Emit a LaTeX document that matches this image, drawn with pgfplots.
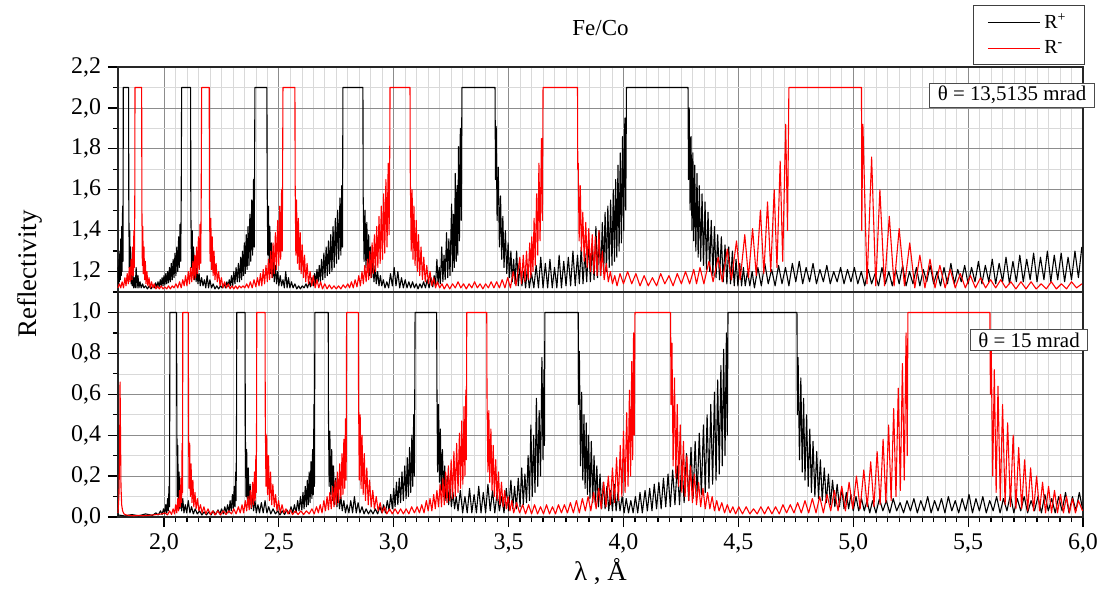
\documentclass[border=0pt]{standalone}
\usepackage{pgfplots}
\pgfplotsset{compat=1.18}
\usepackage{pgfplotstable}
\usepackage{fontspec}
\setmainfont{Liberation Serif}

% top panel, R+ (theta = 13.5135 mrad), raw reflectivity (plotted +1.1)
\pgfplotstableread[row sep=\\]{x y\\
1.800 0.12\\1.802 0.04\\1.804 0.16\\1.806 0.05\\1.808 0.20\\1.810 0.06\\1.812 0.26\\1.814 0.08\\
1.816 0.32\\1.818 0.10\\1.820 0.42\\1.822 0.15\\1.823 1.00\\1.846 1.00\\1.847 0.45\\1.849 0.12\\
1.851 0.30\\1.853 0.06\\1.855 0.22\\1.857 0.04\\1.859 0.15\\1.862 0.03\\1.865 0.10\\1.868 0.02\\
1.871 0.07\\1.875 0.02\\1.879 0.12\\1.883 0.02\\1.887 0.08\\1.891 0.02\\1.896 0.05\\1.901 0.02\\
1.907 0.04\\1.913 0.02\\1.920 0.03\\1.928 0.015\\1.936 0.03\\1.944 0.015\\1.952 0.035\\1.958 0.02\\
1.964 0.045\\1.969 0.02\\1.974 0.05\\1.979 0.025\\1.984 0.06\\1.988 0.03\\1.992 0.07\\1.996 0.03\\
2.000 0.08\\2.004 0.035\\2.008 0.09\\2.012 0.04\\2.016 0.10\\2.020 0.045\\2.024 0.12\\2.028 0.05\\
2.032 0.14\\2.036 0.06\\2.040 0.16\\2.044 0.07\\2.048 0.19\\2.052 0.08\\2.056 0.22\\2.060 0.10\\
2.064 0.27\\2.067 0.12\\2.070 0.33\\2.073 0.15\\2.075 0.42\\2.077 1.00\\2.116 1.00\\2.117 0.40\\
2.120 0.12\\2.123 0.30\\2.126 0.08\\2.129 0.22\\2.132 0.06\\2.136 0.16\\2.140 0.05\\2.144 0.12\\
2.148 0.04\\2.153 0.09\\2.158 0.03\\2.164 0.07\\2.170 0.03\\2.176 0.06\\2.182 0.02\\2.188 0.08\\
2.194 0.02\\2.200 0.06\\2.207 0.02\\2.214 0.04\\2.222 0.015\\2.230 0.03\\2.238 0.015\\2.246 0.03\\
2.254 0.02\\2.262 0.04\\2.268 0.02\\2.274 0.05\\2.279 0.025\\2.284 0.06\\2.289 0.03\\2.294 0.08\\
2.299 0.03\\2.304 0.10\\2.309 0.04\\2.314 0.12\\2.319 0.05\\2.324 0.14\\2.329 0.05\\2.334 0.17\\
2.338 0.06\\2.342 0.20\\2.346 0.08\\2.350 0.24\\2.354 0.09\\2.358 0.28\\2.362 0.11\\2.366 0.32\\
2.370 0.13\\2.374 0.38\\2.378 0.15\\2.382 0.45\\2.386 0.18\\2.390 0.55\\2.393 0.22\\2.396 1.00\\
2.448 1.00\\2.449 0.55\\2.452 0.18\\2.455 0.42\\2.458 0.12\\2.461 0.32\\2.464 0.09\\2.468 0.24\\
2.472 0.07\\2.476 0.18\\2.480 0.05\\2.485 0.13\\2.490 0.04\\2.495 0.10\\2.500 0.03\\2.506 0.08\\
2.512 0.03\\2.518 0.06\\2.524 0.02\\2.530 0.10\\2.536 0.02\\2.542 0.07\\2.548 0.02\\2.555 0.05\\
2.562 0.02\\2.570 0.04\\2.578 0.015\\2.586 0.03\\2.594 0.015\\2.602 0.03\\2.610 0.02\\2.618 0.04\\
2.625 0.02\\2.632 0.05\\2.638 0.025\\2.644 0.07\\2.650 0.03\\2.656 0.09\\2.661 0.04\\2.666 0.11\\
2.671 0.05\\2.676 0.13\\2.681 0.05\\2.686 0.16\\2.691 0.06\\2.696 0.19\\2.701 0.07\\2.706 0.22\\
2.711 0.08\\2.716 0.25\\2.721 0.09\\2.726 0.28\\2.731 0.10\\2.736 0.32\\2.741 0.12\\2.746 0.36\\
2.751 0.14\\2.756 0.40\\2.761 0.16\\2.766 0.46\\2.770 0.18\\2.774 0.52\\2.777 0.22\\2.779 1.00\\
2.866 1.00\\2.867 0.48\\2.871 0.15\\2.875 0.40\\2.879 0.12\\2.883 0.34\\2.887 0.10\\2.891 0.28\\
2.895 0.08\\2.899 0.22\\2.904 0.07\\2.909 0.17\\2.914 0.05\\2.919 0.13\\2.924 0.04\\2.930 0.10\\
2.936 0.03\\2.942 0.08\\2.948 0.03\\2.955 0.06\\2.962 0.02\\2.970 0.05\\2.978 0.02\\2.986 0.09\\
2.994 0.03\\3.002 0.12\\3.010 0.03\\3.018 0.10\\3.026 0.02\\3.034 0.07\\3.042 0.02\\3.050 0.06\\
3.058 0.02\\3.066 0.05\\3.074 0.02\\3.082 0.05\\3.090 0.02\\3.098 0.04\\3.106 0.015\\3.114 0.04\\
3.122 0.02\\3.130 0.05\\3.138 0.02\\3.146 0.06\\3.154 0.02\\3.162 0.07\\3.170 0.025\\3.176 0.08\\
3.182 0.03\\3.188 0.16\\3.193 0.04\\3.198 0.12\\3.203 0.04\\3.209 0.22\\3.214 0.05\\3.219 0.18\\
3.224 0.06\\3.230 0.29\\3.235 0.07\\3.240 0.26\\3.245 0.08\\3.252 0.43\\3.256 0.10\\3.260 0.38\\
3.264 0.12\\3.268 0.58\\3.272 0.15\\3.276 0.52\\3.279 0.18\\3.282 0.71\\3.286 0.25\\3.290 0.80\\
3.294 0.35\\3.297 1.00\\3.441 1.00\\3.443 0.55\\3.446 0.81\\3.450 0.35\\3.455 0.61\\3.460 0.22\\
3.465 0.47\\3.470 0.16\\3.475 0.37\\3.480 0.12\\3.486 0.30\\3.492 0.09\\3.498 0.24\\3.504 0.07\\
3.510 0.20\\3.516 0.05\\3.522 0.16\\3.528 0.04\\3.535 0.20\\3.542 0.03\\3.550 0.13\\3.558 0.03\\
3.566 0.10\\3.574 0.02\\3.582 0.12\\3.590 0.02\\3.600 0.09\\3.610 0.02\\3.620 0.13\\3.630 0.02\\
3.640 0.17\\3.650 0.02\\3.660 0.14\\3.670 0.02\\3.680 0.16\\3.690 0.02\\3.700 0.12\\3.710 0.02\\
3.720 0.18\\3.730 0.02\\3.740 0.15\\3.750 0.03\\3.760 0.17\\3.770 0.03\\3.780 0.20\\3.790 0.03\\
3.800 0.18\\3.808 0.04\\3.816 0.22\\3.824 0.04\\3.832 0.19\\3.840 0.05\\3.848 0.25\\3.856 0.05\\
3.864 0.23\\3.872 0.06\\3.880 0.32\\3.887 0.07\\3.894 0.30\\3.901 0.08\\3.908 0.34\\3.914 0.09\\
3.920 0.39\\3.926 0.10\\3.932 0.42\\3.938 0.12\\3.944 0.45\\3.950 0.13\\3.956 0.50\\3.961 0.15\\
3.966 0.55\\3.971 0.17\\3.976 0.62\\3.981 0.20\\3.986 0.68\\3.991 0.24\\3.996 0.76\\4.001 0.30\\
4.006 0.85\\4.010 0.40\\4.013 1.00\\4.281 1.00\\4.283 0.55\\4.286 0.90\\4.290 0.40\\4.294 0.76\\
4.298 0.30\\4.302 0.68\\4.306 0.25\\4.310 0.62\\4.315 0.20\\4.320 0.58\\4.325 0.17\\4.330 0.52\\
4.336 0.15\\4.342 0.48\\4.348 0.13\\4.355 0.44\\4.361 0.11\\4.368 0.39\\4.375 0.10\\4.382 0.35\\
4.389 0.08\\4.396 0.32\\4.403 0.07\\4.410 0.28\\4.418 0.06\\4.426 0.27\\4.434 0.05\\4.442 0.23\\
4.450 0.04\\4.458 0.22\\4.466 0.04\\4.474 0.20\\4.482 0.03\\4.490 0.16\\4.498 0.03\\4.506 0.14\\
4.514 0.03\\4.522 0.12\\4.530 0.03\\4.540 0.10\\4.550 0.03\\4.560 0.10\\4.570 0.02\\4.585 0.12\\
4.600 0.03\\4.615 0.14\\4.630 0.04\\4.645 0.11\\4.660 0.03\\4.675 0.13\\4.690 0.04\\4.705 0.12\\
4.720 0.03\\4.735 0.14\\4.750 0.05\\4.765 0.15\\4.780 0.04\\4.795 0.12\\4.810 0.05\\4.825 0.14\\
4.840 0.04\\4.855 0.11\\4.870 0.05\\4.885 0.13\\4.900 0.04\\4.915 0.10\\4.930 0.05\\4.945 0.12\\
4.960 0.04\\4.975 0.11\\4.990 0.05\\5.005 0.12\\5.020 0.04\\5.035 0.10\\5.050 0.03\\5.065 0.11\\
5.080 0.04\\5.095 0.09\\5.110 0.03\\5.125 0.12\\5.140 0.04\\5.155 0.10\\5.170 0.03\\5.185 0.11\\
5.200 0.04\\5.215 0.13\\5.230 0.03\\5.245 0.10\\5.260 0.04\\5.275 0.12\\5.290 0.03\\5.305 0.11\\
5.320 0.05\\5.335 0.13\\5.350 0.04\\5.365 0.10\\5.380 0.03\\5.395 0.12\\5.410 0.04\\5.425 0.14\\
5.440 0.04\\5.455 0.11\\5.470 0.05\\5.485 0.13\\5.500 0.04\\5.515 0.12\\5.530 0.05\\5.545 0.15\\
5.560 0.04\\5.575 0.13\\5.590 0.05\\5.605 0.16\\5.620 0.04\\5.635 0.14\\5.650 0.05\\5.665 0.17\\
5.680 0.04\\5.695 0.15\\5.710 0.05\\5.725 0.18\\5.740 0.05\\5.755 0.16\\5.770 0.06\\5.785 0.19\\
5.800 0.05\\5.815 0.17\\5.830 0.06\\5.845 0.20\\5.860 0.05\\5.875 0.18\\5.890 0.06\\5.905 0.19\\
5.920 0.05\\5.935 0.17\\5.950 0.06\\5.965 0.20\\5.980 0.07\\5.995 0.22\\
}\tb

% top panel, R-
\pgfplotstableread[row sep=\\]{x y\\
1.800 0.02\\1.806 0.04\\1.812 0.02\\1.818 0.05\\1.824 0.02\\1.830 0.07\\1.835 0.03\\1.840 0.09\\
1.845 0.04\\1.849 0.12\\1.853 0.05\\1.857 0.16\\1.861 0.06\\1.864 0.22\\1.867 0.08\\1.869 0.30\\
1.871 0.12\\1.873 0.40\\1.874 1.00\\1.903 1.00\\1.904 0.42\\1.906 0.13\\1.908 0.32\\1.910 0.09\\
1.913 0.22\\1.916 0.06\\1.919 0.15\\1.922 0.04\\1.926 0.10\\1.930 0.03\\1.935 0.07\\1.940 0.02\\
1.946 0.05\\1.952 0.02\\1.958 0.04\\1.965 0.015\\1.972 0.03\\1.980 0.015\\1.988 0.03\\1.996 0.015\\
2.004 0.025\\2.012 0.015\\2.020 0.03\\2.028 0.015\\2.036 0.03\\2.044 0.02\\2.052 0.04\\2.060 0.02\\
2.068 0.05\\2.075 0.02\\2.082 0.06\\2.088 0.03\\2.094 0.08\\2.100 0.03\\2.106 0.10\\2.111 0.04\\
2.116 0.12\\2.121 0.05\\2.126 0.15\\2.130 0.06\\2.134 0.18\\2.138 0.07\\2.142 0.22\\2.146 0.09\\
2.150 0.27\\2.154 0.11\\2.157 0.33\\2.160 0.14\\2.162 0.42\\2.164 1.00\\2.197 1.00\\2.198 0.45\\
2.201 0.15\\2.204 0.36\\2.207 0.11\\2.210 0.27\\2.214 0.08\\2.218 0.20\\2.222 0.06\\2.227 0.14\\
2.232 0.05\\2.238 0.10\\2.244 0.03\\2.250 0.07\\2.257 0.02\\2.264 0.05\\2.272 0.02\\2.280 0.04\\
2.288 0.015\\2.296 0.03\\2.304 0.015\\2.312 0.03\\2.320 0.015\\2.328 0.03\\2.336 0.02\\2.344 0.03\\
2.352 0.02\\2.360 0.04\\2.368 0.02\\2.376 0.05\\2.384 0.02\\2.392 0.06\\2.400 0.025\\2.407 0.07\\
2.414 0.03\\2.420 0.09\\2.426 0.03\\2.432 0.11\\2.438 0.04\\2.444 0.13\\2.450 0.05\\2.455 0.16\\
2.460 0.06\\2.465 0.20\\2.470 0.07\\2.475 0.24\\2.480 0.09\\2.485 0.29\\2.490 0.11\\2.495 0.35\\
2.500 0.13\\2.504 0.42\\2.508 0.16\\2.512 0.50\\2.515 0.20\\2.518 1.00\\2.570 1.00\\2.571 0.55\\
2.574 0.18\\2.577 0.45\\2.581 0.14\\2.585 0.36\\2.589 0.11\\2.593 0.29\\2.597 0.09\\2.602 0.23\\
2.607 0.07\\2.612 0.18\\2.617 0.05\\2.623 0.14\\2.629 0.04\\2.636 0.10\\2.643 0.03\\2.650 0.08\\
2.658 0.02\\2.666 0.06\\2.674 0.02\\2.682 0.05\\2.690 0.015\\2.700 0.04\\2.710 0.015\\2.720 0.035\\
2.730 0.015\\2.740 0.03\\2.750 0.015\\2.760 0.03\\2.770 0.015\\2.780 0.035\\2.790 0.02\\2.800 0.04\\
2.808 0.02\\2.816 0.05\\2.824 0.02\\2.832 0.06\\2.840 0.025\\2.848 0.08\\2.855 0.03\\2.862 0.10\\
2.868 0.04\\2.874 0.13\\2.880 0.05\\2.886 0.16\\2.891 0.06\\2.896 0.20\\2.901 0.07\\2.906 0.24\\
2.911 0.09\\2.916 0.28\\2.921 0.10\\2.926 0.32\\2.931 0.12\\2.936 0.37\\2.941 0.14\\2.946 0.42\\
2.951 0.16\\2.956 0.48\\2.961 0.19\\2.966 0.55\\2.971 0.22\\2.976 0.63\\2.980 0.28\\2.983 0.72\\
2.984 1.00\\3.071 1.00\\3.072 0.60\\3.076 0.20\\3.080 0.50\\3.084 0.16\\3.088 0.42\\3.093 0.13\\
3.098 0.35\\3.103 0.10\\3.108 0.28\\3.113 0.08\\3.119 0.22\\3.125 0.06\\3.131 0.17\\3.137 0.05\\
3.144 0.13\\3.151 0.04\\3.158 0.10\\3.166 0.03\\3.174 0.07\\3.182 0.02\\3.190 0.05\\3.200 0.02\\
3.210 0.04\\3.220 0.015\\3.232 0.04\\3.244 0.015\\3.256 0.04\\3.268 0.02\\3.280 0.05\\3.292 0.02\\
3.304 0.04\\3.316 0.015\\3.328 0.04\\3.340 0.02\\3.352 0.05\\3.364 0.02\\3.376 0.04\\3.388 0.015\\
3.400 0.04\\3.412 0.02\\3.424 0.05\\3.436 0.02\\3.448 0.05\\3.460 0.02\\3.472 0.06\\3.484 0.02\\
3.496 0.07\\3.508 0.02\\3.520 0.10\\3.532 0.03\\3.549 0.17\\3.556 0.04\\3.564 0.18\\3.571 0.05\\
3.578 0.20\\3.585 0.06\\3.592 0.24\\3.597 0.07\\3.601 0.27\\3.606 0.10\\3.611 0.36\\3.616 0.13\\
3.622 0.48\\3.627 0.18\\3.632 0.63\\3.637 0.25\\3.643 0.75\\3.647 0.35\\3.650 1.00\\3.800 1.00\\
3.801 0.60\\3.803 0.63\\3.807 0.25\\3.812 0.52\\3.817 0.20\\3.823 0.39\\3.829 0.15\\3.836 0.34\\
3.842 0.12\\3.849 0.31\\3.856 0.10\\3.864 0.28\\3.871 0.09\\3.878 0.27\\3.885 0.08\\3.893 0.30\\
3.900 0.08\\3.908 0.20\\3.916 0.06\\3.925 0.14\\3.934 0.05\\3.943 0.10\\3.952 0.04\\3.962 0.08\\
3.972 0.03\\3.985 0.09\\4.000 0.04\\4.018 0.10\\4.036 0.04\\4.054 0.09\\4.072 0.03\\4.090 0.08\\
4.108 0.03\\4.126 0.07\\4.144 0.03\\4.162 0.09\\4.180 0.04\\4.198 0.08\\4.216 0.03\\4.234 0.09\\
4.252 0.04\\4.270 0.10\\4.288 0.04\\4.306 0.11\\4.318 0.04\\4.333 0.12\\4.350 0.04\\4.372 0.15\\
4.390 0.05\\4.412 0.17\\4.430 0.05\\4.452 0.21\\4.470 0.06\\4.492 0.25\\4.508 0.06\\4.528 0.28\\
4.544 0.07\\4.562 0.31\\4.578 0.08\\4.596 0.40\\4.611 0.09\\4.627 0.44\\4.641 0.10\\4.656 0.50\\
4.668 0.12\\4.682 0.64\\4.693 0.15\\4.706 0.82\\4.714 0.30\\4.720 1.00\\5.036 1.00\\5.037 0.30\\
5.042 0.82\\5.060 0.04\\5.080 0.66\\5.098 0.03\\5.116 0.50\\5.136 0.03\\5.157 0.37\\5.178 0.03\\
5.200 0.31\\5.223 0.03\\5.246 0.24\\5.268 0.02\\5.290 0.18\\5.312 0.02\\5.334 0.16\\5.356 0.02\\
5.377 0.13\\5.400 0.02\\5.422 0.11\\5.444 0.02\\5.466 0.09\\5.488 0.02\\5.510 0.08\\5.532 0.02\\
5.554 0.07\\5.576 0.02\\5.598 0.06\\5.620 0.02\\5.642 0.06\\5.664 0.02\\5.686 0.05\\5.708 0.015\\
5.730 0.05\\5.752 0.015\\5.774 0.05\\5.796 0.015\\5.818 0.04\\5.840 0.015\\5.862 0.05\\5.884 0.015\\
5.906 0.04\\5.928 0.015\\5.950 0.05\\5.972 0.02\\5.995 0.04\\
}\tr

% bottom panel, R+ (theta = 15 mrad)
\pgfplotstableread[row sep=\\]{x y\\
1.800 0.01\\1.830 0.005\\1.860 0.012\\1.890 0.006\\1.920 0.015\\1.950 0.008\\1.965 0.02\\1.975 0.01\\
1.985 0.03\\1.992 0.012\\1.998 0.04\\2.003 0.015\\2.008 0.06\\2.012 0.02\\2.016 0.09\\2.019 0.03\\
2.022 0.15\\2.024 0.05\\2.025 0.45\\2.026 1.00\\2.055 1.00\\2.056 0.50\\2.058 0.10\\2.060 0.35\\
2.063 0.06\\2.066 0.22\\2.069 0.04\\2.073 0.14\\2.077 0.03\\2.082 0.09\\2.087 0.02\\2.093 0.06\\
2.099 0.02\\2.106 0.08\\2.113 0.02\\2.120 0.05\\2.128 0.015\\2.136 0.04\\2.145 0.015\\2.155 0.03\\
2.165 0.01\\2.175 0.025\\2.185 0.01\\2.195 0.025\\2.205 0.01\\2.215 0.03\\2.225 0.012\\2.235 0.035\\
2.243 0.015\\2.251 0.04\\2.258 0.015\\2.265 0.05\\2.271 0.02\\2.277 0.06\\2.283 0.02\\2.288 0.08\\
2.293 0.03\\2.298 0.11\\2.302 0.04\\2.306 0.15\\2.309 0.05\\2.312 0.22\\2.314 0.08\\2.316 0.50\\
2.317 1.00\\2.353 1.00\\2.354 0.45\\2.357 0.10\\2.360 0.33\\2.363 0.07\\2.367 0.24\\2.371 0.05\\
2.375 0.16\\2.380 0.04\\2.385 0.11\\2.390 0.03\\2.396 0.08\\2.402 0.02\\2.409 0.06\\2.416 0.02\\
2.424 0.07\\2.432 0.02\\2.440 0.08\\2.448 0.02\\2.456 0.05\\2.465 0.015\\2.475 0.04\\2.485 0.015\\
2.495 0.03\\2.505 0.01\\2.515 0.03\\2.525 0.012\\2.535 0.035\\2.545 0.015\\2.553 0.05\\2.561 0.02\\
2.568 0.06\\2.575 0.02\\2.582 0.08\\2.588 0.03\\2.594 0.10\\2.600 0.035\\2.605 0.12\\2.610 0.04\\
2.615 0.15\\2.620 0.05\\2.624 0.18\\2.628 0.06\\2.632 0.22\\2.636 0.07\\2.640 0.27\\2.644 0.09\\
2.647 0.33\\2.650 0.11\\2.653 0.55\\2.655 0.15\\2.657 1.00\\2.715 1.00\\2.716 0.50\\2.719 0.15\\
2.722 0.42\\2.726 0.11\\2.730 0.33\\2.734 0.08\\2.738 0.25\\2.743 0.06\\2.748 0.19\\2.753 0.05\\
2.758 0.14\\2.764 0.04\\2.770 0.10\\2.776 0.03\\2.783 0.08\\2.790 0.02\\2.797 0.06\\2.805 0.02\\
2.813 0.08\\2.821 0.02\\2.829 0.10\\2.837 0.02\\2.845 0.07\\2.853 0.02\\2.862 0.05\\2.871 0.015\\
2.880 0.04\\2.890 0.015\\2.900 0.035\\2.910 0.015\\2.920 0.04\\2.930 0.015\\2.940 0.05\\2.948 0.02\\
2.956 0.06\\2.964 0.02\\2.972 0.08\\2.980 0.03\\2.987 0.11\\2.994 0.04\\3.000 0.14\\3.006 0.05\\
3.012 0.17\\3.018 0.06\\3.024 0.19\\3.030 0.07\\3.036 0.22\\3.042 0.08\\3.048 0.25\\3.054 0.09\\
3.059 0.29\\3.064 0.10\\3.069 0.34\\3.074 0.12\\3.079 0.40\\3.083 0.15\\3.087 0.50\\3.090 0.20\\
3.092 0.68\\3.093 1.00\\3.187 1.00\\3.188 0.65\\3.191 0.22\\3.195 0.55\\3.199 0.17\\3.203 0.43\\
3.207 0.13\\3.212 0.33\\3.217 0.10\\3.222 0.25\\3.227 0.08\\3.233 0.20\\3.239 0.06\\3.245 0.15\\
3.251 0.05\\3.258 0.12\\3.265 0.04\\3.272 0.10\\3.280 0.03\\3.290 0.13\\3.300 0.02\\3.310 0.10\\
3.320 0.02\\3.330 0.14\\3.340 0.02\\3.350 0.11\\3.360 0.02\\3.370 0.15\\3.380 0.02\\3.390 0.12\\
3.400 0.02\\3.410 0.16\\3.420 0.03\\3.430 0.13\\3.440 0.02\\3.450 0.12\\3.460 0.03\\3.470 0.10\\
3.480 0.02\\3.490 0.14\\3.500 0.03\\3.510 0.18\\3.518 0.04\\3.526 0.15\\3.534 0.04\\3.542 0.19\\
3.550 0.05\\3.557 0.24\\3.564 0.06\\3.571 0.21\\3.578 0.07\\3.585 0.30\\3.591 0.08\\3.597 0.45\\
3.603 0.10\\3.609 0.40\\3.615 0.12\\3.621 0.58\\3.627 0.15\\3.633 0.52\\3.639 0.20\\3.645 0.78\\
3.650 0.28\\3.654 0.72\\3.656 0.35\\3.658 1.00\\3.803 1.00\\3.805 0.55\\3.808 0.81\\3.813 0.25\\
3.818 0.61\\3.823 0.18\\3.828 0.50\\3.833 0.14\\3.838 0.46\\3.843 0.11\\3.848 0.40\\3.854 0.09\\
3.860 0.37\\3.866 0.07\\3.872 0.30\\3.878 0.06\\3.884 0.25\\3.891 0.05\\3.898 0.21\\3.905 0.04\\
3.912 0.17\\3.920 0.04\\3.928 0.15\\3.936 0.03\\3.944 0.13\\3.952 0.03\\3.960 0.16\\3.968 0.03\\
3.976 0.12\\3.985 0.03\\3.994 0.10\\4.003 0.02\\4.012 0.09\\4.022 0.02\\4.032 0.08\\4.042 0.02\\
4.052 0.10\\4.062 0.02\\4.072 0.12\\4.082 0.02\\4.094 0.13\\4.104 0.03\\4.114 0.14\\4.124 0.03\\
4.134 0.16\\4.144 0.04\\4.154 0.17\\4.164 0.04\\4.174 0.19\\4.184 0.05\\4.194 0.21\\4.204 0.05\\
4.214 0.23\\4.224 0.06\\4.234 0.25\\4.244 0.06\\4.254 0.28\\4.264 0.07\\4.274 0.31\\4.284 0.08\\
4.294 0.34\\4.303 0.09\\4.312 0.37\\4.321 0.10\\4.330 0.41\\4.339 0.11\\4.348 0.45\\4.356 0.12\\
4.364 0.50\\4.372 0.14\\4.380 0.55\\4.388 0.16\\4.396 0.61\\4.403 0.18\\4.410 0.67\\4.417 0.21\\
4.424 0.74\\4.430 0.25\\4.436 0.82\\4.442 0.30\\4.448 0.90\\4.452 0.40\\4.455 1.00\\4.755 1.00\\
4.757 0.50\\4.760 0.78\\4.766 0.28\\4.772 0.68\\4.778 0.22\\4.784 0.58\\4.790 0.18\\4.797 0.50\\
4.804 0.15\\4.811 0.43\\4.818 0.12\\4.825 0.37\\4.833 0.10\\4.841 0.32\\4.849 0.09\\4.857 0.28\\
4.865 0.08\\4.874 0.24\\4.883 0.07\\4.892 0.21\\4.901 0.06\\4.910 0.18\\4.920 0.05\\4.930 0.16\\
4.940 0.05\\4.950 0.14\\4.960 0.04\\4.970 0.12\\4.980 0.04\\4.990 0.11\\5.000 0.03\\5.012 0.10\\
5.024 0.03\\5.036 0.09\\5.048 0.03\\5.060 0.08\\5.072 0.02\\5.084 0.08\\5.099 0.02\\5.114 0.09\\
5.129 0.03\\5.144 0.08\\5.159 0.02\\5.174 0.09\\5.189 0.03\\5.204 0.07\\5.219 0.02\\5.234 0.08\\
5.249 0.03\\5.264 0.09\\5.279 0.02\\5.294 0.08\\5.309 0.03\\5.324 0.10\\5.339 0.02\\5.354 0.08\\
5.369 0.03\\5.384 0.09\\5.399 0.02\\5.414 0.10\\5.429 0.03\\5.444 0.08\\5.459 0.02\\5.474 0.09\\
5.489 0.03\\5.504 0.11\\5.519 0.02\\5.534 0.09\\5.549 0.03\\5.564 0.10\\5.579 0.02\\5.594 0.08\\
5.609 0.03\\5.624 0.10\\5.639 0.02\\5.654 0.09\\5.669 0.03\\5.684 0.11\\5.699 0.02\\5.714 0.09\\
5.729 0.03\\5.744 0.10\\5.759 0.02\\5.774 0.08\\5.789 0.03\\5.804 0.10\\5.819 0.02\\5.834 0.11\\
5.849 0.03\\5.864 0.09\\5.879 0.02\\5.894 0.10\\5.909 0.03\\5.924 0.12\\5.939 0.02\\5.954 0.10\\
5.969 0.03\\5.984 0.12\\5.998 0.04\\
}\bb

% bottom panel, R-
\pgfplotstableread[row sep=\\]{x y\\
1.800 0.02\\1.804 0.10\\1.807 0.30\\1.809 0.66\\1.811 0.40\\1.813 0.15\\1.816 0.06\\1.820 0.03\\
1.826 0.015\\1.835 0.01\\1.850 0.008\\1.870 0.006\\1.890 0.008\\1.910 0.006\\1.930 0.008\\1.950 0.01\\
1.970 0.012\\1.990 0.015\\2.005 0.02\\2.015 0.01\\2.025 0.03\\2.033 0.012\\2.040 0.04\\2.046 0.015\\
2.051 0.06\\2.056 0.02\\2.060 0.09\\2.064 0.03\\2.068 0.13\\2.071 0.05\\2.074 0.19\\2.077 0.07\\
2.079 0.36\\2.081 0.12\\2.082 1.00\\2.106 1.00\\2.107 0.50\\2.109 0.14\\2.112 0.36\\2.115 0.10\\
2.118 0.26\\2.122 0.07\\2.126 0.18\\2.130 0.05\\2.135 0.12\\2.140 0.04\\2.146 0.09\\2.152 0.03\\
2.159 0.06\\2.166 0.02\\2.174 0.05\\2.182 0.015\\2.192 0.04\\2.202 0.012\\2.212 0.03\\2.222 0.01\\
2.234 0.03\\2.246 0.01\\2.258 0.03\\2.270 0.012\\2.282 0.03\\2.294 0.015\\2.304 0.04\\2.314 0.015\\
2.324 0.05\\2.332 0.02\\2.340 0.06\\2.347 0.02\\2.354 0.08\\2.360 0.03\\2.366 0.10\\2.371 0.035\\
2.376 0.13\\2.381 0.045\\2.386 0.17\\2.390 0.06\\2.394 0.22\\2.397 0.08\\2.400 0.30\\2.402 0.12\\
2.403 0.45\\2.404 1.00\\2.440 1.00\\2.441 0.50\\2.444 0.15\\2.447 0.40\\2.451 0.11\\2.455 0.30\\
2.459 0.08\\2.464 0.22\\2.469 0.06\\2.474 0.16\\2.480 0.05\\2.486 0.11\\2.492 0.03\\2.499 0.08\\
2.506 0.02\\2.514 0.06\\2.522 0.02\\2.531 0.04\\2.540 0.015\\2.550 0.035\\2.560 0.012\\2.572 0.03\\
2.584 0.012\\2.596 0.03\\2.608 0.012\\2.620 0.03\\2.632 0.015\\2.644 0.04\\2.654 0.015\\2.664 0.05\\
2.672 0.02\\2.680 0.06\\2.688 0.02\\2.696 0.08\\2.703 0.03\\2.710 0.10\\2.716 0.035\\2.722 0.12\\
2.728 0.04\\2.734 0.15\\2.740 0.05\\2.745 0.18\\2.750 0.06\\2.755 0.22\\2.760 0.07\\2.765 0.26\\
2.770 0.09\\2.775 0.31\\2.779 0.11\\2.783 0.38\\2.787 0.14\\2.790 0.48\\2.793 0.18\\2.795 1.00\\
2.846 1.00\\2.847 0.60\\2.850 0.18\\2.854 0.50\\2.858 0.14\\2.862 0.40\\2.867 0.11\\2.872 0.31\\
2.877 0.08\\2.883 0.24\\2.889 0.06\\2.895 0.18\\2.902 0.05\\2.909 0.13\\2.916 0.04\\2.924 0.10\\
2.932 0.03\\2.941 0.07\\2.950 0.02\\2.960 0.05\\2.970 0.015\\2.982 0.04\\2.994 0.015\\3.006 0.04\\
3.018 0.015\\3.030 0.04\\3.042 0.015\\3.054 0.04\\3.066 0.015\\3.078 0.05\\3.090 0.02\\3.102 0.05\\
3.112 0.02\\3.122 0.06\\3.132 0.02\\3.142 0.08\\3.150 0.03\\3.158 0.09\\3.166 0.03\\3.174 0.11\\
3.181 0.04\\3.188 0.13\\3.195 0.05\\3.202 0.16\\3.208 0.05\\3.214 0.19\\3.220 0.06\\3.226 0.22\\
3.232 0.07\\3.238 0.25\\3.244 0.08\\3.250 0.28\\3.256 0.09\\3.262 0.32\\3.268 0.10\\3.274 0.36\\
3.280 0.12\\3.286 0.41\\3.291 0.14\\3.296 0.47\\3.301 0.16\\3.306 0.54\\3.310 0.20\\3.314 0.62\\
3.316 0.28\\3.318 1.00\\3.405 1.00\\3.406 0.60\\3.410 0.22\\3.414 0.52\\3.418 0.17\\3.423 0.43\\
3.428 0.13\\3.433 0.35\\3.438 0.10\\3.444 0.28\\3.450 0.08\\3.456 0.22\\3.462 0.06\\3.469 0.17\\
3.476 0.05\\3.483 0.13\\3.490 0.04\\3.498 0.10\\3.506 0.03\\3.514 0.08\\3.522 0.02\\3.535 0.07\\
3.548 0.02\\3.561 0.06\\3.574 0.015\\3.587 0.06\\3.600 0.015\\3.613 0.06\\3.626 0.015\\3.639 0.05\\
3.652 0.015\\3.665 0.06\\3.678 0.015\\3.691 0.05\\3.704 0.015\\3.717 0.06\\3.730 0.02\\3.743 0.06\\
3.756 0.02\\3.769 0.07\\3.782 0.02\\3.795 0.08\\3.808 0.02\\3.821 0.09\\3.834 0.03\\3.846 0.10\\
3.858 0.03\\3.870 0.12\\3.881 0.04\\3.892 0.14\\3.903 0.04\\3.914 0.17\\3.924 0.05\\3.934 0.20\\
3.943 0.06\\3.952 0.24\\3.961 0.07\\3.970 0.29\\3.978 0.08\\3.986 0.35\\3.993 0.10\\4.000 0.42\\
4.007 0.12\\4.014 0.51\\4.020 0.15\\4.026 0.62\\4.031 0.20\\4.036 0.76\\4.040 0.28\\4.044 0.90\\
4.047 0.40\\4.050 1.00\\4.205 1.00\\4.207 0.55\\4.211 0.85\\4.216 0.25\\4.222 0.68\\4.228 0.19\\
4.234 0.55\\4.240 0.15\\4.247 0.45\\4.254 0.12\\4.261 0.37\\4.268 0.10\\4.276 0.30\\4.284 0.08\\
4.292 0.25\\4.300 0.07\\4.309 0.21\\4.318 0.06\\4.327 0.17\\4.336 0.05\\4.346 0.14\\4.356 0.04\\
4.366 0.12\\4.376 0.04\\4.386 0.10\\4.396 0.03\\4.406 0.08\\4.416 0.03\\4.428 0.07\\4.440 0.02\\
4.452 0.06\\4.464 0.02\\4.476 0.05\\4.488 0.015\\4.502 0.05\\4.518 0.015\\4.534 0.05\\4.550 0.015\\
4.566 0.04\\4.582 0.015\\4.598 0.05\\4.614 0.015\\4.630 0.05\\4.646 0.015\\4.662 0.05\\4.678 0.015\\
4.694 0.06\\4.710 0.02\\4.726 0.06\\4.742 0.02\\4.758 0.07\\4.774 0.02\\4.790 0.08\\4.806 0.02\\
4.822 0.09\\4.838 0.02\\4.854 0.10\\4.870 0.02\\4.886 0.11\\4.902 0.03\\4.918 0.13\\4.934 0.03\\
4.950 0.15\\4.966 0.03\\4.982 0.17\\4.998 0.04\\5.014 0.20\\5.030 0.04\\5.046 0.23\\5.061 0.05\\
5.076 0.27\\5.090 0.05\\5.104 0.32\\5.117 0.06\\5.130 0.38\\5.142 0.07\\5.154 0.45\\5.165 0.08\\
5.176 0.53\\5.186 0.10\\5.196 0.63\\5.205 0.13\\5.214 0.75\\5.222 0.18\\5.230 0.90\\5.235 0.30\\
5.238 1.00\\5.595 1.00\\5.597 0.60\\5.600 0.88\\5.607 0.20\\5.614 0.72\\5.622 0.12\\5.630 0.64\\
5.640 0.08\\5.650 0.55\\5.661 0.06\\5.672 0.46\\5.684 0.05\\5.696 0.40\\5.708 0.04\\5.720 0.34\\
5.733 0.04\\5.746 0.28\\5.759 0.03\\5.772 0.24\\5.785 0.03\\5.798 0.20\\5.811 0.03\\5.824 0.17\\
5.837 0.02\\5.850 0.15\\5.863 0.02\\5.876 0.13\\5.889 0.02\\5.902 0.11\\5.915 0.02\\5.928 0.10\\
5.941 0.02\\5.954 0.09\\5.967 0.02\\5.980 0.08\\5.998 0.03\\
}\br

\begin{document}
\begin{tikzpicture}
\useasboundingbox (-59bp,-36bp) rectangle (491.5bp,258.5bp);
\pgfkeys{/pgf/number format/.cd,fixed,fixed zerofill,precision=1,use comma,assume math mode=true}
\begin{axis}[
  scale only axis, width=482.5bp, height=225bp,
  xmin=1.8, xmax=6.0, ymin=0, ymax=2.2,
  xtick={2.0,2.5,3.0,3.5,4.0,4.5,5.0,5.5,6.0},
  ytick={0,0.2,0.4,0.6,0.8,1.0,1.2,1.4,1.6,1.8,2.0,2.2},
  minor x tick num=9, minor y tick num=1,
  grid=both,
  major grid style={black!45, line width=0.4pt},
  minor grid style={black!15, line width=0.3pt},
  tick align=outside, tick pos=left,
  major tick length=5bp, minor tick length=2.5bp,
  every tick/.style={black, line width=0.6pt},
  axis line style={black!85, line width=0.9pt},
  tick label style={font=\fontsize{12}{14}\selectfont},
  title={Fe/Co},
  title style={font=\fontsize{11.5}{13}\selectfont, at={(rel axis cs:0.5,1.06)}, anchor=center},
  xlabel={λ , Å}, ylabel={Reflectivity},
  every axis x label/.style={at={(rel axis cs:0.5,-0.122)}, anchor=center, font=\fontsize{13.5}{15}\selectfont},
  every axis y label/.style={at={(rel axis cs:-0.0912,0.54)}, rotate=90, anchor=center, font=\fontsize{13.5}{16}\selectfont},
  legend style={at={(rel axis cs:1.002,1.004)}, anchor=south east, draw=black!75, fill=white,
    font=\fontsize{10}{12}\selectfont, inner xsep=7bp, inner ysep=2bp, row sep=0.5bp},
  legend cell align=left,
  legend image code/.code={\draw[#1, line width=0.6pt] (0bp,0bp) -- (26bp,0bp);},
  clip=false,
  every axis plot/.append style={line join=round},
]
\addplot[black, line width=0.55pt] table[x index=0, y expr=\thisrowno{1}+1.1]{\tb};
\addplot[red, line width=0.55pt] table[x index=0, y expr=\thisrowno{1}+1.1]{\tr};
\addplot[black, line width=0.55pt, forget plot] table[x index=0, y index=1]{\bb};
\addplot[red, line width=0.55pt, forget plot] table[x index=0, y index=1]{\br};
\legend{R\textsuperscript{+}, R\textsuperscript{-}}
\draw[black!85, line width=0.9pt] (rel axis cs:0,0.5) -- (rel axis cs:1,0.5);
\node[draw=black!70, fill=white, font=\fontsize{10.5}{12}\selectfont, inner xsep=4bp, inner ysep=1.5bp] at (axis cs:5.691,2.063) {θ = 13,5135 mrad};
\node[draw=black!70, fill=white, font=\fontsize{10.5}{12}\selectfont, inner xsep=4bp, inner ysep=1.5bp] at (axis cs:5.765,0.865) {θ = 15 mrad};
\end{axis}
\end{tikzpicture}
\end{document}
